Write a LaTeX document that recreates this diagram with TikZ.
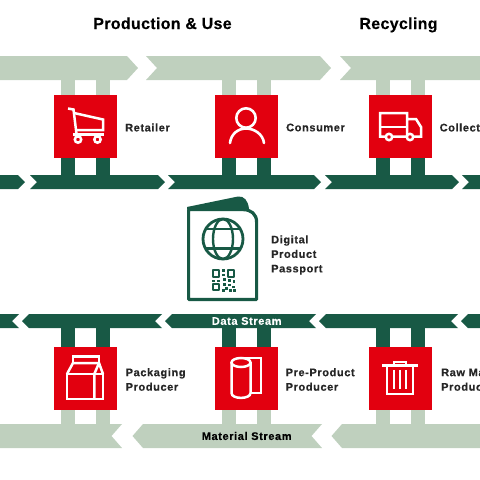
\documentclass[tikz,border=0pt]{standalone}
\usepackage{fontspec}
\setmainfont{Liberation Sans}
\definecolor{dprred}{HTML}{E2000F}
\definecolor{dprdark}{HTML}{185945}
\definecolor{dprlight}{HTML}{BFD0BE}
\usetikzlibrary{calc}
\begin{document}
\begin{tikzpicture}[x=1pt, y=-1pt,
    redbox/.style={rectangle, fill=dprred, minimum size=63pt, inner sep=0pt},
    stage/.style={anchor=base, inner sep=0pt, font=\bfseries\fontsize{16}{18}\selectfont\addfontfeatures{LetterSpace=2,FakeBold=0.3}, text=black},
    lbl/.style={anchor=west, align=left, font=\bfseries\fontsize{11}{14.5}\selectfont\addfontfeatures{LetterSpace=5.5,FakeBold=0.4}, text=black!85, inner sep=0pt},
    icon/.style={draw=white, line width=2.5pt},
    passline/.style={draw=dprdark, line width=3.2pt, line join=round}]

    \useasboundingbox (0,0) rectangle (480,480);
    \clip (0,0) rectangle (480,480);

    % Boxes
    \node[redbox] (retailer) at (85.5,126.5) {};
    \node[redbox] (consumer) at (246.5,126.5) {};
    \node[redbox] (collector) at (400,126.5) {};
    \node[redbox] (packaging) at (85.5,378.5) {};
    \node[redbox] (preproduct) at (246.5,378.5) {};
    \node[redbox] (rawmaterial) at (400,378.5) {};

    \coordinate (materialtop) at (0,68);
    \coordinate (datatop) at (0,182);
    \coordinate (databottom) at (0,321);
    \coordinate (materialbottom) at (0,436);

    % Stubs
    \foreach \b in {retailer,consumer,collector} {
      \foreach \s in {-17.5,17.5} {
        \draw[line width=14pt, dprlight] ([xshift=\s pt]\b.north) -- ([xshift=\s pt]\b.north |- materialtop);
        \draw[line width=14pt, dprdark] ([xshift=\s pt]\b.south) -- ([xshift=\s pt]\b.south |- datatop);
      }
    }
    \foreach \b in {packaging,preproduct,rawmaterial} {
      \foreach \s in {-17.5,17.5} {
        \draw[line width=14pt, dprdark] ([xshift=\s pt]\b.north) -- ([xshift=\s pt]\b.north |- databottom);
        \draw[line width=14pt, dprlight] ([xshift=\s pt]\b.south) -- ([xshift=\s pt]\b.south |- materialbottom);
      }
    }

    % Bands
    \foreach \a/\b in {-20/127, 146/320, 340/500} {
      \fill[dprlight] (\a,56) -- (\b,56) -- (\b+11,68) -- (\b,80) -- (\a,80) -- (\a+11,68) -- cycle;
    }
    \foreach \a/\b in {-20/18, 30/158, 168/314, 325/452, 462/500} {
      \fill[dprdark] (\a,175) -- (\b,175) -- (\b+7,182) -- (\b,189) -- (\a,189) -- (\a+7,182) -- cycle;
    }
    \foreach \a/\b in {-20/19, 29/162, 172/316, 326/458, 468/500} {
      \fill[dprdark] (\a,314) -- (\b,314) -- (\b-7,321) -- (\b,328) -- (\a,328) -- (\a-7,321) -- cycle;
    }
    \foreach \a/\b in {-20/122, 143/322, 342/500} {
      \fill[dprlight] (\a,424) -- (\b,424) -- (\b-10.5,436) -- (\b,448) -- (\a,448) -- (\a-10.5,436) -- cycle;
    }

    % Texts
    \node[stage] (production) at (162.5,29) {Production \& Use};
    \node[stage] (recycling) at (398.5,29) {Recycling};
    \node[lbl] (retailertext) at (125,127.5) {Retailer};
    \node[lbl] (consumertext) at (286,127.5) {Consumer};
    \node[lbl] (collectortext) at (439.5,127.5) {Collector};
    \node[lbl] (packagingtext) at (125.5,379.5) {Packaging\\Producer};
    \node[lbl] (preproducttext) at (285.5,379.5) {Pre-Product\\Producer};
    \node[lbl] (rawtext) at (441,379.5) {Raw Material\\Producer};
    \node[lbl] (passporttext) at (271,255) {Digital\\Product\\Passport};
    \node[lbl, text=white] (datastream) at (246,321) {\makebox[0pt]{Data Stream}};
    \node[lbl, text=black] (materialstream) at (246,436) {\makebox[0pt]{Material Stream}};

    % Cart
    \draw[icon] (68,108.5) -- (73.5,109.5) -- (76.5,134);
    \draw[icon] (74,113) -- (103,119.5) -- (103,130) -- (77,130);
    \draw[icon] (73,134.5) -- (104,134.5);
    \draw[icon, fill=dprred] (78,139.5) circle (3.2) (97.5,139.5) circle (3.2);

    % Person
    \draw[icon, line width=2.6pt] (246,118) circle (9.7);
    \draw[icon, line width=2.6pt, line cap=round] (230,143) .. controls (231,134) and (238,128.5) .. (246,128.5) .. controls (254,128.5) and (263,134) .. (264,143);

    % Truck
    \draw[icon] (407,136.5) -- (407,113) -- (380,113) -- (380,136.5) -- (421,136.5) -- (421,127) -- (416,119) -- (407,119);
    \draw[icon] (380,127) -- (407,127);
    \draw[icon, fill=dprred] (389,137) circle (3.2) (410,137) circle (3.2);

    % Carton
    \draw[icon] (67,399) rectangle (103,374);
    \draw[icon] (67,374) -- (73,363) -- (99,363) -- (103,374);
    \draw[icon] (73,363) -- (73,356.5) -- (99,356.5) -- (99,363);
    \draw[icon] (94.3,399) -- (94.3,374) -- (99,363);

    % Roll
    \draw[icon] (241,358) -- (261,358) -- (261,393) -- (251,393);
    \draw[icon] (241,362.5) ellipse (9.5 and 4.5);
    \draw[icon] (231.5,362.5) -- (231.5,393) .. controls (231.5,399.5) and (250.5,399.5) .. (250.5,393) -- (250.5,362.5);

    % Trash
    \draw[icon] (382,365.7) -- (418,365.7);
    \draw[icon] (394,365.7) -- (394,362) -- (406,362) -- (406,365.7);
    \draw[icon] (387,366) -- (387,394) -- (413,394) -- (413,366);
    \foreach \x in {394,400,406} {
      \draw[icon] (\x,370) -- (\x,389);
    }

    % Passport
    \fill[dprdark] (187,209) -- (187,207) -- (238,196.5) .. controls (244,196) and (248,200) .. (249,209) -- cycle;
    \draw[passline] (188.6,209.6) -- (243,209.6) .. controls (251,209.6) and (256.6,214) .. (256.6,222) -- (256.6,299.4) -- (188.6,299.4) -- cycle;
    \draw[passline, line width=2.8pt] (223,239) circle (20);
    \draw[passline, line width=2.4pt] (223,239) ellipse (10 and 20);
    \draw[passline, line width=2.4pt] (205.7,229) -- (240.3,229) (205.7,248.5) -- (240.3,248.5);

    % QR
    \foreach \x/\y in {212.5/270, 227.5/270, 212.5/283.5} {
      \draw[passline, line width=2pt] (\x,\y) rectangle ++(6.5,6.5);
    }
    \foreach \x/\y in {222/269, 222/273.5, 223/278, 212/279.5, 217/279.5, 228/279, 232.5/280, 223/283, 228/283.5, 232/285.5, 225/287, 222/289, 229/289, 233/289} {
      \fill[dprdark] (\x,\y) rectangle ++(2.9,2.9);
    }

  \end{tikzpicture}
\end{document}
